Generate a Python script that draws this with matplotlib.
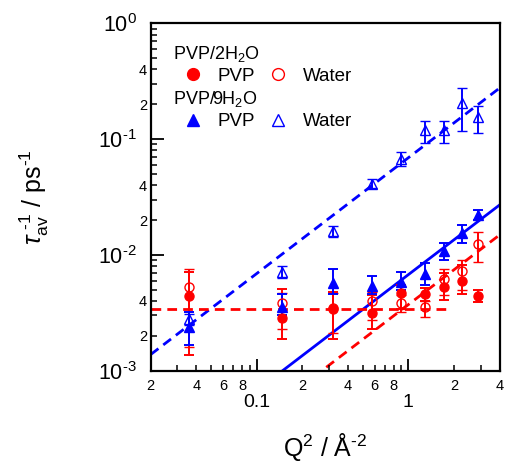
import numpy as np
import matplotlib
matplotlib.use("Agg")
import matplotlib.pyplot as plt
from matplotlib.ticker import FixedLocator, FuncFormatter
from matplotlib.lines import Line2D

plt.rcParams["font.family"] = ["Liberation Sans", "DejaVu Sans"]
plt.rcParams["mathtext.fontset"] = "custom"
plt.rcParams["mathtext.rm"] = "Liberation Sans"
plt.rcParams["mathtext.it"] = "Liberation Sans:italic"
plt.rcParams["mathtext.bf"] = "Liberation Sans:bold"
plt.rcParams["axes.unicode_minus"] = False

# Q^2 values (A^-2)
q2 = np.array([0.036, 0.148, 0.32, 0.58, 0.90, 1.28, 1.72, 2.25, 2.89])

# PVP/2H2O, PVP component
pvp2 = np.array([0.00445, 0.00287, 0.00339, 0.00317, 0.00472, 0.00457, 0.00531, 0.00596, 0.00442])
pvp2_hi = np.array([0.0071, 0.00505, 0.0048, 0.0045, 0.0055, 0.0052, 0.0070, 0.0082, 0.0050])
pvp2_lo = np.array([0.00137, 0.00188, 0.00189, 0.0023, 0.0034, 0.0040, 0.0041, 0.0046, 0.0039])

# PVP/2H2O, water component
wat2 = np.array([0.00525, 0.00382, 0.0035, 0.0040, 0.00382, 0.00353, 0.00619, 0.00726, 0.0124])
wat2_hi = np.array([0.00755, 0.0047, 0.00465, 0.0048, 0.0045, 0.0040, 0.0076, 0.0090, 0.0159])
wat2_lo = np.array([0.0016, 0.0023, 0.00211, 0.00274, 0.0032, 0.0029, 0.0045, 0.0050, 0.0087])

# PVP/9H2O, PVP component
pvp9 = np.array([0.00237, 0.00352, 0.00569, 0.00538, 0.00587, 0.00684, 0.01087, 0.01538, 0.0221])
pvp9_hi = np.array([0.00319, 0.00456, 0.0075, 0.0066, 0.0071, 0.00846, 0.0126, 0.0182, 0.0245])
pvp9_lo = np.array([0.00167, 0.0030, 0.0046, 0.0046, 0.0050, 0.0055, 0.0090, 0.0126, 0.0199])

# PVP/9H2O, water component
wat9 = np.array([0.00279, 0.00716, 0.01607, 0.0409, 0.0673, 0.120, 0.120, 0.2037, 0.156])
wat9_hi = np.array([0.0031, 0.0081, 0.0176, 0.0454, 0.0772, 0.1425, 0.1425, 0.279, 0.194])
wat9_lo = np.array([0.0025, 0.0063, 0.0144, 0.0377, 0.0587, 0.0924, 0.0924, 0.118, 0.112])

# fits: 1/tau = D * Q^2 (diffusive) and Q-independent level
d_wat9 = 0.069
d_pvp9 = 0.00675
d_wat2 = 0.00372
flat_pvp2 = 0.00341
flat_end = 1.8

q_range = np.array([0.02, 4.0])

fig = plt.figure(figsize=(5.05, 4.72), dpi=100)
ax = fig.add_axes([0.2984, 0.2146, 0.6909, 0.736])
ax.set_xscale("log")
ax.set_yscale("log")

# fit lines
dash = (0, (3.5, 2.2))
ax.plot(q_range, d_wat9 * q_range, color="blue", ls=dash, lw=2.0, zorder=1)
ax.plot(q_range, d_pvp9 * q_range, color="blue", ls="-", lw=2.0, zorder=1)
ax.plot(q_range, d_wat2 * q_range, color="red", ls=dash, lw=2.0, zorder=1)
ax.plot([q_range[0], flat_end], [flat_pvp2, flat_pvp2], color="red", ls=dash, lw=2.0, zorder=1)

eb = dict(capsize=3.5, elinewidth=1.4, capthick=1.4, ls="none", zorder=3)
ax.errorbar(q2, wat2, yerr=[wat2 - wat2_lo, wat2_hi - wat2], marker="o", ms=6.5,
            color="red", mfc="none", mec="red", mew=1.0, **eb)
ax.errorbar(q2, pvp2, yerr=[pvp2 - pvp2_lo, pvp2_hi - pvp2], marker="o", ms=6.5,
            color="red", mfc="red", mec="red", **eb)
ax.errorbar(q2, wat9, yerr=[wat9 - wat9_lo, wat9_hi - wat9], marker="^", ms=7,
            color="blue", mfc="none", mec="blue", mew=1.0, **eb)
ax.errorbar(q2, pvp9, yerr=[pvp9 - pvp9_lo, pvp9_hi - pvp9], marker="^", ms=7,
            color="blue", mfc="blue", mec="blue", **eb)

ax.set_xlim(0.02, 4)
ax.set_ylim(1e-3, 1)

# ticks
x_minor = [v * 10.0 ** e for e in (-2, -1, 0) for v in range(2, 10)]
y_minor = [v * 10.0 ** e for e in (-3, -2, -1) for v in range(2, 10)]
ax.xaxis.set_major_locator(FixedLocator([0.1, 1]))
ax.xaxis.set_minor_locator(FixedLocator(x_minor))
ax.yaxis.set_major_locator(FixedLocator([1e-3, 1e-2, 1e-1, 1]))
ax.yaxis.set_minor_locator(FixedLocator(y_minor))


def lead_digit(v):
    return int(round(v / 10 ** np.floor(np.log10(v))))


def pow_label(v, pos):
    e = int(round(np.log10(v)))
    if e < 0:
        return r"$\mathregular{10^{\text{-}%d}}$" % -e
    return r"$\mathregular{10^{%d}}$" % e


ax.xaxis.set_major_formatter(FuncFormatter(lambda v, p: "0.1" if v < 0.5 else "1"))
ax.xaxis.set_minor_formatter(FuncFormatter(
    lambda v, p: str(lead_digit(v)) if lead_digit(v) in (2, 4, 6, 8) else ""))
ax.yaxis.set_major_formatter(FuncFormatter(pow_label))
ax.yaxis.set_minor_formatter(FuncFormatter(
    lambda v, p: str(lead_digit(v)) if lead_digit(v) in (2, 4) else ""))

ax.tick_params(which="both", direction="in", top=False, right=False)
ax.tick_params(which="major", length=9, width=1.3)
ax.tick_params(which="minor", length=4.5, width=1.1)
ax.tick_params(axis="x", which="major", labelsize=14, pad=17)
ax.tick_params(axis="x", which="minor", labelsize=10.5, pad=6)
ax.tick_params(axis="y", which="major", labelsize=15.5, pad=10)
ax.tick_params(axis="y", which="minor", labelsize=10.5, pad=2.5)

for s in ax.spines.values():
    s.set_linewidth(1.6)

ax.set_xlabel(r"Q$^2$ / $\mathregular{\AA}^{\text{-}2}$", fontsize=18, labelpad=14)
ax.set_ylabel(r"$\tau_{\mathregular{av}}^{\ \text{-}1}$ / ps$^{\text{-}1}$",
              fontsize=18, labelpad=34)

# legends
h2 = [Line2D([], [], ls="none", marker="o", ms=8.5, color="red"),
      Line2D([], [], ls="none", marker="o", ms=8.5, mfc="none", mec="red", mew=1.0)]
h9 = [Line2D([], [], ls="none", marker="^", ms=9, color="blue"),
      Line2D([], [], ls="none", marker="^", ms=9, mfc="none", mec="blue", mew=1.0)]
leg_kw = dict(ncol=2, loc="upper left", frameon=False, alignment="left", fontsize=13.5,
              title_fontsize=13, handlelength=2.13, handletextpad=0.27, columnspacing=0.15,
              borderpad=0, borderaxespad=0, labelspacing=0.2)
leg1 = ax.legend(h2, ["PVP", "Water"], title=r"PVP/2H$_2$O",
                 bbox_to_anchor=(0.063, 0.94), **leg_kw)
ax.add_artist(leg1)
ax.legend(h9, ["PVP", "Water"], title=r"PVP/9H$_2$O",
          bbox_to_anchor=(0.063, 0.81), **leg_kw)

fig.savefig("out.png", dpi=100)
